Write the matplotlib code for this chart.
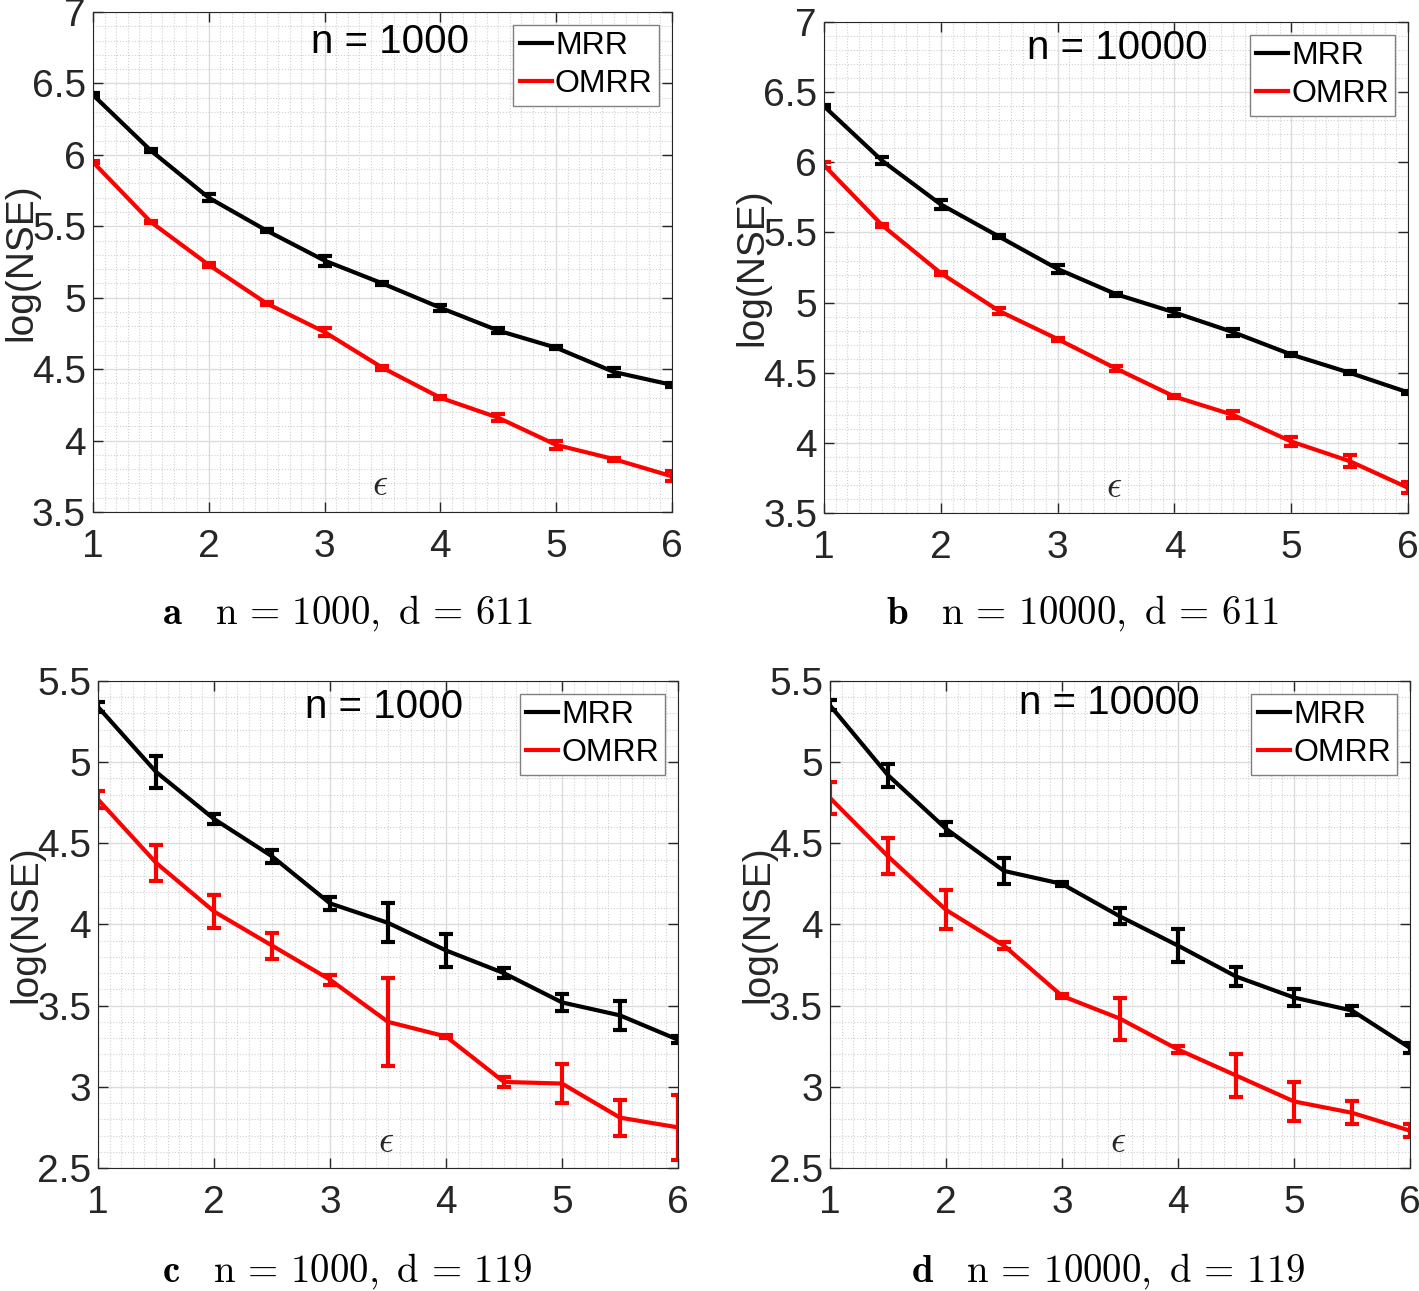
import numpy as np
import matplotlib
matplotlib.use("Agg")
import matplotlib.pyplot as plt
from matplotlib.ticker import MultipleLocator, FormatStrFormatter
from matplotlib.lines import Line2D

plt.rcParams['font.family'] = ['Liberation Sans', 'DejaVu Sans']
plt.rcParams['mathtext.fontset'] = 'cm'

eps = [1, 1.5, 2, 2.5, 3, 3.5, 4, 4.5, 5, 5.5, 6]

# panel a: n = 1000, d = 611
mrr_a = [6.42, 6.03, 5.70, 5.47, 5.26, 5.10, 4.93, 4.77, 4.65, 4.48, 4.39]
mrr_a_err = [0.015, 0.01, 0.025, 0.01, 0.035, 0.01, 0.02, 0.015, 0.01, 0.025, 0.015]
omrr_a = [5.95, 5.53, 5.23, 4.96, 4.76, 4.51, 4.30, 4.16, 3.97, 3.87, 3.75]
omrr_a_err = [0.01, 0.01, 0.015, 0.01, 0.03, 0.015, 0.01, 0.025, 0.03, 0.01, 0.035]

# panel b: n = 10000, d = 611
mrr_b = [6.40, 6.01, 5.70, 5.47, 5.24, 5.06, 4.93, 4.79, 4.63, 4.50, 4.36]
mrr_b_err = [0.01, 0.025, 0.03, 0.01, 0.03, 0.01, 0.025, 0.025, 0.01, 0.01, 0.01]
omrr_b = [5.98, 5.55, 5.21, 4.94, 4.74, 4.53, 4.33, 4.20, 4.01, 3.87, 3.68]
omrr_b_err = [0.02, 0.01, 0.01, 0.02, 0.01, 0.02, 0.01, 0.025, 0.03, 0.045, 0.04]

# panel c: n = 1000, d = 119
mrr_c = [5.34, 4.94, 4.65, 4.42, 4.13, 4.01, 3.84, 3.70, 3.52, 3.44, 3.29]
mrr_c_err = [0.03, 0.10, 0.03, 0.04, 0.04, 0.12, 0.10, 0.03, 0.05, 0.09, 0.02]
omrr_c = [4.77, 4.38, 4.08, 3.87, 3.66, 3.40, 3.31, 3.03, 3.02, 2.81, 2.75]
omrr_c_err = [0.05, 0.11, 0.10, 0.08, 0.03, 0.27, 0.01, 0.03, 0.12, 0.11, 0.20]

# panel d: n = 10000, d = 119
mrr_d = [5.35, 4.92, 4.59, 4.33, 4.25, 4.05, 3.87, 3.68, 3.55, 3.47, 3.24]
mrr_d_err = [0.03, 0.07, 0.04, 0.08, 0.01, 0.05, 0.10, 0.06, 0.05, 0.03, 0.03]
omrr_d = [4.78, 4.42, 4.09, 3.87, 3.56, 3.42, 3.23, 3.07, 2.91, 2.84, 2.73]
omrr_d_err = [0.10, 0.11, 0.12, 0.02, 0.01, 0.13, 0.02, 0.13, 0.12, 0.07, 0.04]

panels = [
    ([0.0655, 0.6034, 0.408, 0.3873], mrr_a, mrr_a_err, omrr_a, omrr_a_err, (3.5, 7), "n = 1000", (0.513, 0.94)),
    ([0.5807, 0.6026, 0.4116, 0.3803], mrr_b, mrr_b_err, omrr_b, omrr_b_err, (3.5, 7), "n = 10000", (0.503, 0.947)),
    ([0.0691, 0.0953, 0.4087, 0.3772], mrr_c, mrr_c_err, omrr_c, omrr_c_err, (2.5, 5.5), "n = 1000", (0.493, 0.947)),
    ([0.5849, 0.0953, 0.4087, 0.3772], mrr_d, mrr_d_err, omrr_d, omrr_d_err, (2.5, 5.5), "n = 10000", (0.481, 0.955)),
]
captions = [
    (0.245, 0.525, r"$\mathbf{a}\quad \mathrm{n\,=\,1000,\ d\,=\,611}$"),
    (0.7625, 0.525, r"$\mathbf{b}\quad \mathrm{n\,=\,10000,\ d\,=\,611}$"),
    (0.245, 0.0155, r"$\mathbf{c}\quad \mathrm{n\,=\,1000,\ d\,=\,119}$"),
    (0.781, 0.0155, r"$\mathbf{d}\quad \mathrm{n\,=\,10000,\ d\,=\,119}$"),
]

fig = plt.figure(figsize=(14.19, 12.91), dpi=100)

for pos, m, me, o, oe, ylim, title, tpos in panels:
    ax = fig.add_axes(pos)
    ax.errorbar(eps, m, yerr=me, color='black', lw=3, elinewidth=3, capsize=5, capthick=3)
    ax.errorbar(eps, o, yerr=oe, color='red', lw=3, elinewidth=3, capsize=5, capthick=3)
    ax.set_xlim(1, 6)
    ax.set_ylim(*ylim)
    ax.xaxis.set_major_locator(MultipleLocator(1))
    ax.yaxis.set_major_locator(MultipleLocator(0.5))
    ax.yaxis.set_major_formatter(FormatStrFormatter('%g'))
    ax.xaxis.set_minor_locator(MultipleLocator(0.1))
    ax.yaxis.set_minor_locator(MultipleLocator(0.1))
    ax.grid(which='major', color='#dcdcdc', lw=1)
    ax.grid(which='minor', color='#d0d0d0', lw=0.8, ls=':')
    ax.set_axisbelow(True)
    ax.tick_params(which='major', direction='in', length=7, width=1, top=True, right=True,
                   labelsize=28, colors='#262626')
    ax.tick_params(axis='x', pad=12)
    ax.tick_params(axis='y', pad=5)
    ax.tick_params(which='minor', length=0)
    for s in ax.spines.values():
        s.set_color('#262626')
    ax.set_ylabel('log(NSE)', fontsize=28, color='#262626')
    ax.yaxis.set_label_coords(-0.092, 0.5)
    ax.text(tpos[0], tpos[1], title, transform=ax.transAxes, ha='center', va='center', fontsize=29)
    ax.text(0.496, 0.054, r'$\epsilon$', transform=ax.transAxes, ha='center', va='center',
            fontsize=27, color='#262626')
    handles = [Line2D([], [], color='black', lw=3), Line2D([], [], color='red', lw=3)]
    leg = ax.legend(handles, ['MRR', 'OMRR'], loc='upper right', fontsize=23, handlelength=1.0,
                    handletextpad=0.1, borderaxespad=0.4, fancybox=False, framealpha=1,
                    borderpad=0.2, labelspacing=0.25)
    leg.get_frame().set_edgecolor('#808080')
    leg.get_frame().set_linewidth(1)

for x, y, txt in captions:
    fig.text(x, y, txt, ha='center', va='center', fontsize=28)

fig.savefig('out.png', dpi=100)
